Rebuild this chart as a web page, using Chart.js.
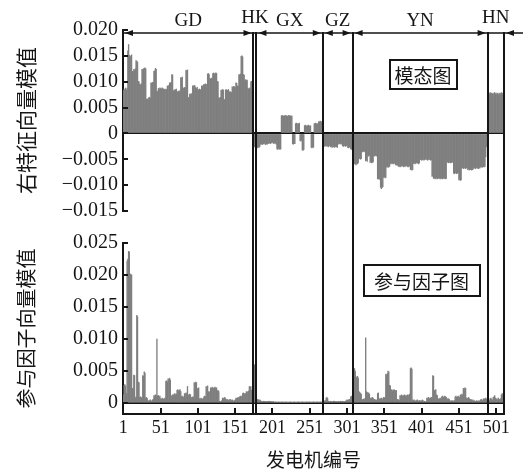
<!DOCTYPE html>
<html><head><meta charset="utf-8">
<script src="https://cdn.jsdelivr.net/npm/chart.js@4.4.1/dist/chart.umd.min.js"></script>
<style>
html,body{margin:0;padding:0;background:#fff;}
#wrap{position:relative;width:523px;height:469px;overflow:hidden;background:#fff;}
#c1,#c2{position:absolute;left:0;}
#c1{top:0;}
#c2{top:226px;}
</style></head>
<body>
<div id="wrap">
<canvas id="c1" width="523" height="228"></canvas>
<canvas id="c2" width="523" height="243"></canvas>
</div>
<script>
// ---------- data ----------
const regionNames = ['GD','HK','GX','GZ','YN','HN'];
const regionEdges = [0.5,175.5,179.5,268.5,308.5,489.5,511.5];
const xTickLabels = [1,51,101,151,201,251,301,351,401,451,501];
const topTicks = [-0.015,-0.010,-0.005,0,0.005,0.010,0.015,0.020];
const bottomTicks = [0,0.005,0.010,0.015,0.020,0.025];

// right eigenvector magnitude (mode shape)
const modeGD = [0.0083,0.0086,0.0085,0.0088,0.0084,0.0087,0.0160,0.0172,0.0151,0.0150,0.0148,0.0152,0.0120,0.0118,0.0124,0.0122,0.0125,0.0141,0.0140,0.0138,
0.0101,0.0100,0.0095,0.0094,0.0096,0.0124,0.0123,0.0125,0.0126,0.0127,0.0125,0.0066,0.0067,0.0065,0.0069,0.0070,0.0068,0.0098,0.0097,0.0099,0.0098,
0.0120,0.0121,0.0126,0.0124,0.0082,0.0081,0.0087,0.0086,0.0088,0.0087,0.0086,0.0088,0.0087,0.0086,0.0085,0.0084,0.0086,0.0085,0.0092,0.0091,0.0093,
0.0098,0.0097,0.0099,0.0114,0.0113,0.0083,0.0082,0.0085,0.0084,0.0086,0.0081,0.0080,0.0082,0.0081,0.0083,0.0108,0.0107,0.0109,0.0088,0.0087,0.0089,0.0088,
0.0122,0.0121,0.0123,0.0069,0.0070,0.0076,0.0075,0.0077,0.0076,0.0092,0.0091,0.0093,0.0092,0.0088,0.0087,0.0089,0.0085,0.0084,0.0086,0.0085,0.0084,
0.0092,0.0091,0.0093,0.0095,0.0094,0.0096,0.0095,0.0094,0.0115,0.0116,0.0114,0.0106,0.0105,0.0107,0.0106,0.0116,0.0117,0.0115,0.0116,0.0117,0.0116,
0.0101,0.0100,0.0069,0.0068,0.0070,0.0084,0.0083,0.0085,0.0084,0.0066,0.0065,0.0084,0.0085,0.0083,0.0084,0.0085,0.0080,0.0081,0.0080,0.0079,
0.0090,0.0089,0.0091,0.0090,0.0089,0.0098,0.0097,0.0092,0.0091,0.0114,0.0113,0.0115,0.0149,0.0150,0.0148,0.0114,0.0113,0.0103,0.0104,0.0102,0.0103,
0.0087,0.0086,0.0088,0.0087,0.0100,0.0101,0.0100,0.0099];
const modeHK = [-0.0025,-0.0026,-0.0025,-0.0026];
const modeGX = [-0.0027,-0.0028,-0.0026,-0.0027,-0.0025,
-0.0021,-0.0020,-0.0022,-0.0021,-0.0020,-0.0019,-0.0021,-0.0022,-0.0020,-0.0021,-0.0020,
-0.0019,-0.0018,-0.0020,-0.0019,-0.0018,-0.0017,-0.0019,-0.0020,-0.0018,-0.0019,-0.0021,
-0.0030,-0.0031,-0.0029,-0.0030,-0.0031,-0.0030,
0.0034,0.0035,0.0034,0.0033,0.0034,0.0035,0.0034,0.0034,0.0033,0.0034,0.0035,0.0034,0.0034,0.0033,0.0034,
-0.0020,-0.0021,-0.0019,-0.0020,
0.0019,0.0020,0.0019,0.0018,0.0019,0.0020,
-0.0014,-0.0015,-0.0013,
-0.0032,-0.0033,-0.0031,
0.0015,0.0016,0.0015,0.0014,0.0015,0.0016,0.0015,0.0014,0.0015,
-0.0027,-0.0028,-0.0026,-0.0027,
0.0019,0.0018,0.0020,0.0019,0.0018,0.0019,
0.0023,0.0022,0.0024,0.0023,0.0022,0.0023];
const modeGZ = [-0.0024,-0.0023,-0.0025,-0.0024,-0.0023,-0.0025,-0.0024,-0.0026,-0.0024,-0.0023,
-0.0026,-0.0025,-0.0027,-0.0026,-0.0025,-0.0027,-0.0026,-0.0025,-0.0026,-0.0027,
-0.0020,-0.0021,-0.0019,-0.0020,-0.0021,-0.0020,
-0.0024,-0.0025,-0.0023,-0.0024,-0.0025,-0.0024,-0.0023,
-0.0027,-0.0028,-0.0026,-0.0027,-0.0030,-0.0031,-0.0029];
const modeYN = [-0.0059,-0.0060,-0.0058,-0.0059,-0.0061,-0.0058,-0.0059,-0.0057,
-0.0049,-0.0048,-0.0050,-0.0049,
-0.0035,-0.0036,-0.0034,-0.0035,-0.0036,
-0.0053,-0.0052,-0.0054,
-0.0043,-0.0044,-0.0042,
-0.0056,-0.0055,-0.0057,-0.0056,-0.0055,
-0.0043,-0.0044,-0.0042,-0.0043,-0.0044,
-0.0088,-0.0087,-0.0089,-0.0088,
-0.0104,-0.0107,-0.0105,-0.0103,
-0.0085,-0.0084,-0.0086,-0.0085,
-0.0065,-0.0064,-0.0066,-0.0065,-0.0064,
-0.0058,-0.0059,-0.0057,-0.0058,-0.0059,-0.0058,-0.0057,
-0.0061,-0.0060,-0.0062,-0.0061,
-0.0064,-0.0063,-0.0065,-0.0064,-0.0063,-0.0062,-0.0064,-0.0065,-0.0063,-0.0064,-0.0062,-0.0063,-0.0064,-0.0065,-0.0064,-0.0063,
-0.0070,-0.0069,-0.0071,-0.0070,
-0.0058,-0.0057,-0.0059,-0.0058,-0.0057,-0.0056,-0.0058,-0.0059,-0.0057,
-0.0051,-0.0050,-0.0052,-0.0051,-0.0050,-0.0052,-0.0051,-0.0050,-0.0049,-0.0051,-0.0052,-0.0050,-0.0051,-0.0050,-0.0052,-0.0051,
-0.0083,-0.0082,
-0.0087,-0.0086,-0.0088,-0.0087,-0.0086,-0.0088,-0.0087,-0.0086,-0.0087,-0.0088,-0.0086,-0.0087,-0.0088,-0.0087,-0.0086,-0.0087,-0.0088,-0.0087,
-0.0056,-0.0055,-0.0057,-0.0056,-0.0055,-0.0057,-0.0056,-0.0055,-0.0056,
-0.0077,-0.0078,-0.0076,-0.0077,-0.0078,-0.0077,-0.0076,
-0.0090,-0.0089,-0.0091,-0.0090,
-0.0067,-0.0066,-0.0068,-0.0067,-0.0066,-0.0068,-0.0067,-0.0066,
-0.0070,-0.0069,-0.0071,-0.0070,-0.0069,-0.0071,-0.0070,-0.0069,
-0.0067,-0.0066,-0.0068,-0.0067,-0.0066,-0.0067,-0.0068,-0.0066,-0.0067,
-0.0065,-0.0064,-0.0066,-0.0065,-0.0064,-0.0065,-0.0064,
-0.0045,-0.0026,-0.0025];
const modeHN = [0.0075,0.0078,0.0077,0.0079,0.0076,0.0078,0.0077,0.0075,0.0078,0.0079,0.0077,0.0076,0.0078,0.0077,0.0075,0.0078,0.0076,0.0077,0.0079,0.0078,0.0076,0.0077];

// participation factor magnitude
const partGD = [0.0013,0.0028,0.0029,0.0027,0.0015,0.0222,0.0225,0.0237,0.0236,0.0202,0.0201,0.0200,0.0023,0.0022,0.0044,0.0043,0.0008,0.0010,0.0137,0.0135,
0.0033,0.0032,0.0009,0.0010,0.0008,0.0009,0.0043,0.0042,0.0049,0.0047,0.0008,0.0009,0.0007,0.0004,0.0003,0.0004,0.0005,0.0004,0.0003,0.0005,0.0006,
0.0012,0.0011,0.0013,0.0012,0.0100,0.0011,0.0012,0.0010,0.0011,0.0007,0.0006,0.0008,0.0007,0.0006,0.0007,0.0008,0.0034,0.0035,0.0033,
0.0038,0.0037,0.0039,0.0036,0.0012,0.0011,0.0013,0.0012,0.0014,0.0015,0.0013,0.0014,0.0020,0.0021,0.0019,0.0020,0.0021,0.0018,
0.0010,0.0011,0.0009,0.0010,0.0015,0.0014,0.0016,0.0015,0.0026,0.0013,0.0012,0.0014,0.0013,0.0009,0.0008,0.0010,0.0009,
0.0032,0.0031,0.0033,0.0032,0.0023,0.0022,0.0024,0.0007,0.0006,0.0008,0.0007,0.0006,0.0007,0.0010,0.0011,0.0010,
0.0026,0.0025,0.0027,0.0018,0.0017,0.0018,0.0024,0.0023,0.0025,0.0024,0.0023,0.0024,0.0025,0.0023,0.0024,0.0019,0.0020,0.0018,
0.0003,0.0002,0.0003,0.0004,0.0008,0.0007,0.0008,0.0009,0.0007,0.0005,0.0006,0.0005,0.0004,0.0005,0.0006,0.0005,
0.0004,0.0005,0.0004,0.0003,0.0004,0.0005,0.0008,0.0007,0.0008,0.0009,0.0008,0.0010,0.0011,0.0010,0.0011,
0.0015,0.0016,0.0015,0.0014,0.0015,0.0018,0.0017,0.0018,0.0019,0.0026,0.0025,0.0026,0.0020,0.0019,0.0021];
const partHK = [0.0059,0.0060,0.0058,0.0059];
const partGX = [0.0005,0.0006,0.0005,0.0004,0.0005,0.0004,
0.0003,0.0003,0.0002,0.0003,0.0003,0.0002,0.0003,0.0002,0.0003,0.0002,0.0003,0.0003,0.0002,0.0003,0.0002,0.0002,0.0003,
0.0001,0.0001,0.0002,0.0001,0.0001,0.0001,0.0002,0.0001,0.0001,0.0001,
0.0001,0.0002,0.0001,0.0001,0.0001,0.0001,0.0002,0.0001,0.0001,0.0001,
0.0001,0.0001,0.0002,0.0001,0.0001,0.0001,0.0001,0.0002,0.0001,0.0001,
0.0001,0.0001,0.0001,0.0002,0.0001,0.0001,0.0001,0.0001,0.0002,0.0001,
0.0001,0.0001,0.0001,0.0001,0.0002,0.0001,0.0001,0.0001,0.0002,0.0001,
0.0001,0.0001,0.0001,0.0002,0.0001,0.0001,0.0001,0.0001,0.0002,0.0001,
0.0001,0.0001,0.0002,0.0001,0.0001,0.0001];
const partGZ = [0.0003,0.0004,0.0003,0.0004,0.0008,0.0009,0.0007,
0.0003,0.0002,0.0003,0.0003,0.0002,0.0003,0.0002,0.0003,0.0003,0.0002,
0.0003,0.0002,0.0002,0.0003,0.0003,0.0002,0.0003,0.0002,0.0003,0.0003,
0.0002,0.0003,0.0002,0.0003,0.0004,
0.0005,0.0004,0.0005,0.0006,0.0005,0.0010,0.0011,0.0009];
const partYN = [0.0053,0.0052,0.0054,0.0050,0.0041,0.0040,0.0042,0.0039,0.0018,0.0017,0.0015,0.0014,
0.0006,0.0005,0.0006,0.0007,0.0005,0.0102,0.0018,0.0017,0.0015,0.0016,0.0014,
0.0008,0.0007,0.0008,0.0009,0.0008,0.0005,0.0006,0.0005,0.0004,0.0005,0.0015,0.0016,
0.0007,0.0006,0.0007,0.0008,0.0007,0.0006,0.0009,0.0008,0.0009,0.0045,0.0044,0.0046,0.0050,0.0049,0.0028,0.0027,
0.0020,0.0021,0.0019,0.0020,0.0021,0.0020,0.0019,0.0020,0.0005,0.0006,0.0005,0.0004,
0.0012,0.0011,0.0013,0.0012,0.0011,0.0012,0.0013,0.0012,0.0011,0.0012,0.0013,0.0012,0.0013,0.0014,
0.0054,0.0055,0.0053,0.0005,0.0004,0.0005,
0.0004,0.0003,0.0004,0.0005,0.0004,0.0003,0.0004,0.0004,0.0003,0.0004,0.0005,0.0004,
0.0002,0.0003,0.0002,0.0002,0.0008,0.0007,0.0009,0.0008,0.0007,0.0008,0.0009,0.0008,
0.0043,0.0042,0.0020,0.0019,0.0021,0.0013,0.0012,0.0007,0.0006,0.0007,0.0008,0.0006,
0.0010,0.0011,0.0009,0.0010,0.0011,0.0010,0.0009,0.0007,0.0006,0.0007,0.0006,
0.0004,0.0003,0.0004,0.0003,0.0004,0.0003,0.0004,0.0010,0.0011,0.0009,0.0010,0.0011,0.0010,0.0009,
0.0013,0.0012,0.0014,0.0013,0.0023,0.0022,0.0024,0.0023,0.0008,0.0007,0.0008,0.0009,0.0007,
0.0005,0.0006,0.0005,0.0004,0.0005,0.0003,0.0004,0.0003,0.0003,0.0004,0.0003,0.0003,0.0004,0.0003,
0.0005,0.0006,0.0005,0.0004,0.0007,0.0006,0.0007,0.0008,0.0006,0.0007];
const partHN = [0.0005,0.0006,0.0004,0.0007,0.0008,0.0006,0.0005,0.0009,0.0010,0.0012,0.0008,0.0006,0.0007,0.0005,0.0008,0.0006,0.0005,0.0007,0.0013,0.0015,0.0014,0.0016];

// ---------- styles ----------
const BAR = '#7f7f7f';
const INK = '#151515';
const SERIF = "'Liberation Serif','DejaVu Serif',serif";
const CJK = "'Noto Sans CJK SC','Noto Sans CJK JP',sans-serif";

const modeAll = [].concat(modeGD, modeHK, modeGX, modeGZ, modeYN, modeHN);
const partAll = [].concat(partGD, partHK, partGX, partGZ, partYN, partHN);
const modePts = modeAll.map((v,i)=>({x:i+1, y:v}));
const partPts = partAll.map((v,i)=>({x:i+1, y:v}));

function fmt(v){
  if (Math.abs(v) < 1e-9) return '0';
  return (v < 0 ? '\u2212' : '') + Math.abs(v).toFixed(3);
}

function arrowHead(ctx, tipX, y, dir){ // dir -1 = points left, +1 = points right
  ctx.beginPath();
  ctx.moveTo(tipX, y);
  ctx.lineTo(tipX - dir*8, y - 3);
  ctx.lineTo(tipX - dir*8, y + 3);
  ctx.closePath();
  ctx.fill();
}

function innerYTicks(chart){
  const ctx = chart.ctx, y = chart.scales.y, a = chart.chartArea;
  ctx.save(); ctx.strokeStyle = INK; ctx.lineWidth = 2;
  y.ticks.forEach(t=>{
    const py = Math.round(y.getPixelForValue(t.value));
    ctx.beginPath(); ctx.moveTo(a.left, py); ctx.lineTo(a.left + 5, py); ctx.stroke();
  });
  ctx.restore();
}

function drawBox(chart, gx, gy, w, h, text){
  const ctx = chart.ctx, x = chart.scales.x, y = chart.scales.y;
  const cx = x.getPixelForValue(gx), cy = y.getPixelForValue(gy);
  ctx.save();
  ctx.fillStyle = '#fff'; ctx.fillRect(cx - w/2, cy - h/2, w, h);
  ctx.strokeStyle = INK; ctx.lineWidth = 2;
  ctx.strokeRect(Math.round(cx - w/2), Math.round(cy - h/2), w, h);
  ctx.fillStyle = INK; ctx.font = '19px ' + CJK; ctx.textAlign = 'center'; ctx.textBaseline = 'middle';
  ctx.fillText(text, cx, cy + 1);
  ctx.restore();
}

const topDecor = {
  id: 'topDecor',
  afterDraw(chart){
    const ctx = chart.ctx, x = chart.scales.x, a = chart.chartArea;
    innerYTicks(chart);
    ctx.save();
    ctx.strokeStyle = INK; ctx.fillStyle = INK; ctx.lineWidth = 2;
    const ay = a.top + 3;
    regionEdges.slice(1).forEach(e=>{
      const px = Math.round(x.getPixelForValue(e));
      ctx.beginPath(); ctx.moveTo(px, ay - 1); ctx.lineTo(px, chart.height); ctx.stroke();
    });
    ctx.lineWidth = 1.5;
    ctx.beginPath(); ctx.moveTo(a.left + 1, ay); ctx.lineTo(chart.width, ay); ctx.stroke();
    [[0,1],[2,3],[3,4],[4,5]].forEach(([s,e])=>{
      const x0 = x.getPixelForValue(regionEdges[s]), x1 = x.getPixelForValue(regionEdges[e]);
      arrowHead(ctx, x0 + 2, ay, -1);
      arrowHead(ctx, x1 - 2, ay, 1);
    });
    arrowHead(ctx, x.getPixelForValue(regionEdges[6]) + 2, ay, -1);
    ctx.font = '19px ' + SERIF; ctx.textAlign = 'center'; ctx.textBaseline = 'middle';
    regionNames.forEach((n,i)=>{
      const cx = x.getPixelForValue((regionEdges[i] + regionEdges[i+1]) / 2);
      const raised = (n === 'HK' || n === 'HN');
      ctx.fillText(n, cx, a.top - (raised ? 12 : 9));
    });
    ctx.restore();
    drawBox(chart, 403, 0.0114, 67, 29, '模态图');
  }
};

const bottomDecor = {
  id: 'bottomDecor',
  afterDraw(chart){
    const ctx = chart.ctx, x = chart.scales.x, a = chart.chartArea;
    innerYTicks(chart);
    ctx.save();
    ctx.strokeStyle = INK; ctx.lineWidth = 2;
    x.ticks.forEach(t=>{
      const px = Math.round(x.getPixelForValue(t.value));
      ctx.beginPath(); ctx.moveTo(px, a.bottom); ctx.lineTo(px, a.bottom - 6); ctx.stroke();
    });
    regionEdges.slice(1).forEach(e=>{
      const px = Math.round(x.getPixelForValue(e));
      ctx.beginPath(); ctx.moveTo(px, 0); ctx.lineTo(px, a.bottom); ctx.stroke();
    });
    ctx.restore();
    drawBox(chart, 401, 0.0191, 116, 31, '参与因子图');
  }
};

function yScale(min, max, ticks, title, titleSize){
  return {
    min: min, max: max, z: 1,
    afterFit: s => { s.width = 123; },
    afterBuildTicks: s => { s.ticks = ticks.map(v => ({value: v})); },
    ticks: { callback: v => fmt(v), font: {family: SERIF, size: 20}, color: INK, padding: 5, autoSkip: false },
    grid: { drawTicks: false, lineWidth: 2, color: c => (c.tick && Math.abs(c.tick.value) < 1e-9) ? INK : 'rgba(0,0,0,0)' },
    border: { display: true, color: INK, width: 2 },
    title: { display: true, text: title, color: INK, font: {family: CJK, size: titleSize, lineHeight: 1}, padding: {top: 16, bottom: 0} }
  };
}

const barDs = (pts) => ({ data: pts, backgroundColor: BAR, borderWidth: 0, barPercentage: 1, categoryPercentage: 1, inflateAmount: 0.3 });

new Chart(document.getElementById('c1'), {
  type: 'bar',
  data: { datasets: [barDs(modePts)] },
  options: {
    responsive: false, animation: false, events: [],
    layout: { padding: { top: 30, right: 19, bottom: 16, left: 0 } },
    plugins: { legend: { display: false }, tooltip: { enabled: false } },
    scales: {
      x: { type: 'linear', offset: false, min: 0.5, max: 511.5, display: false },
      y: yScale(-0.015, 0.020, topTicks, '右特征向量模值', 21)
    }
  },
  plugins: [topDecor]
});

new Chart(document.getElementById('c2'), {
  type: 'bar',
  data: { datasets: [barDs(partPts)] },
  options: {
    responsive: false, animation: false, events: [],
    layout: { padding: { top: 14, right: 19, bottom: 0, left: 0 } },
    plugins: { legend: { display: false }, tooltip: { enabled: false } },
    scales: {
      x: {
        type: 'linear', offset: false, min: 0.5, max: 511.5,
        afterFit: s => { s.height = 55; },
        afterBuildTicks: s => { s.ticks = xTickLabels.map(v => ({value: v})); },
        ticks: { font: {family: SERIF, size: 18}, color: INK, padding: 3, maxRotation: 0, autoSkip: false, callback: v => String(v) },
        grid: { display: false, drawTicks: false },
        border: { display: true, color: INK, width: 2 },
        title: { display: true, text: '发电机编号', color: INK, font: {family: CJK, size: 19, lineHeight: 1}, padding: {top: 0, bottom: 0} }
      },
      y: yScale(-0.0017, 0.025, bottomTicks, '参与因子向量模值', 20)
    }
  },
  plugins: [bottomDecor]
});
</script>
</body></html>
